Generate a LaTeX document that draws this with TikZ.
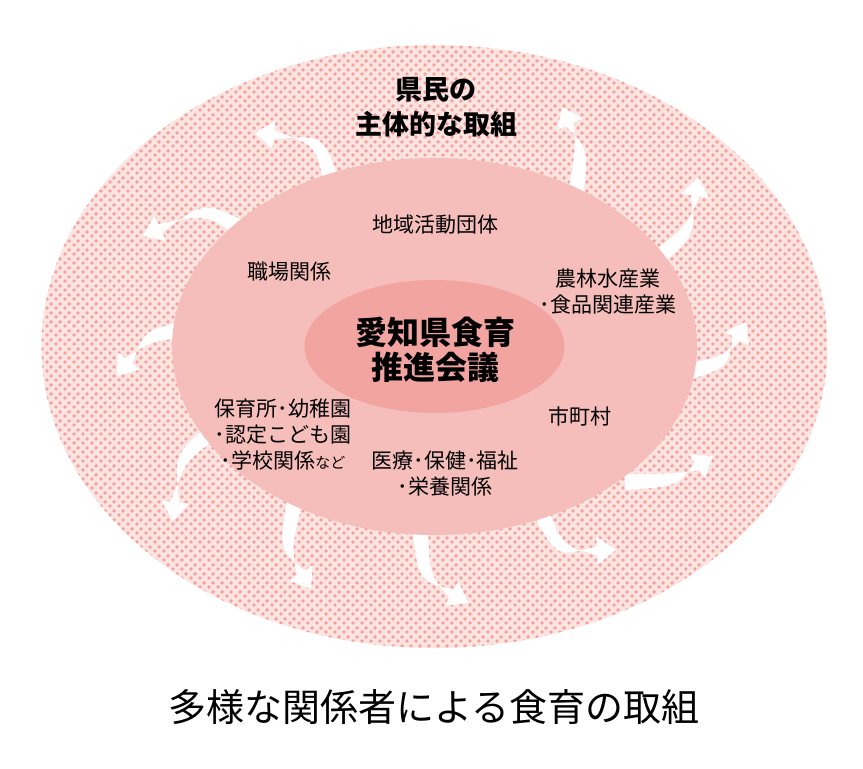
\documentclass[tikz,border=0pt]{standalone}
\usepackage{fontspec}
\setmainfont{Noto Sans CJK JP}
\usetikzlibrary{arrows.meta,patterns,calc}
\pgfdeclarepatternformonly{pinkdots}{\pgfqpoint{0pt}{0pt}}{\pgfqpoint{9pt}{9pt}}{\pgfqpoint{9pt}{9pt}}{%
  \pgfpathcircle{\pgfqpoint{2.25pt}{2.25pt}}{2.15pt}%
  \pgfpathcircle{\pgfqpoint{6.75pt}{6.75pt}}{2.15pt}%
  \pgfusepath{fill}}
\definecolor{ringbg}{RGB}{252,228,224}
\definecolor{dotpink}{RGB}{244,160,158}
\definecolor{midpink}{RGB}{246,190,186}
\definecolor{innerpink}{RGB}{242,164,160}
\newcommand\flowarrow[3]{%
  \coordinate (fS) at #1;
  \coordinate (fC) at #2;
  \coordinate (fT) at #3;
  \coordinate (fH) at ($(fT)!19pt!(fC)$);
  \coordinate (fD) at ($(fC)+(fT)-(fS)$);
  \fill[arrowfill] ($(fS)!8pt!90:(fC)$) .. controls ($(fC)!6.5pt!90:(fD)$) .. ($(fH)!4.5pt!-90:(fT)$)
    -- ($(fH)!14pt!-90:(fT)$) -- (fT) -- ($(fH)!14pt!90:(fT)$) -- ($(fH)!4.5pt!90:(fT)$)
    .. controls ($(fC)!6.5pt!-90:(fD)$) .. ($(fS)!8pt!-90:(fC)$) -- cycle;}
\begin{document}
\begin{tikzpicture}[x=1pt,y=-1pt,
  arrowfill/.style={white},
  lbl/.style={inner sep=0pt, align=center, font=\fontsize{21}{26}\selectfont},
  boldlbl/.style={inner sep=0pt, align=center, font=\fontsize{27}{35}\selectfont\bfseries},
  centerlbl/.style={inner sep=0pt, align=center, font=\fontsize{32}{35}\selectfont\bfseries},
  titlelbl/.style={inner sep=0pt, font=\fontsize{38}{40}\selectfont}]
\useasboundingbox (0,0) rectangle (863,769);
\fill[white] (0,0) rectangle (863,769);
% outer ring
\fill[ringbg] (434.5,346.5) ellipse [x radius=393pt, y radius=301.5pt];
\fill[pattern=pinkdots, pattern color=dotpink] (434.5,346.5) ellipse [x radius=393pt, y radius=301.5pt];
% arrows
\flowarrow{(332,185)}{(320,140)}{(255,133)}
\flowarrow{(240,228)}{(205,208)}{(143,236)}
\flowarrow{(182,330)}{(148,336)}{(117,376)}
\flowarrow{(212,432)}{(180,458)}{(173,521)}
\flowarrow{(296,495)}{(285,548)}{(311,589)}
\flowarrow{(420,525)}{(424,578)}{(468,603)}
\flowarrow{(540,510)}{(560,552)}{(616,550)}
\flowarrow{(625,482)}{(676,480)}{(713,456)}
\flowarrow{(688,372)}{(724,362)}{(746,322)}
\flowarrow{(652,262)}{(690,232)}{(698,177)}
\flowarrow{(575,198)}{(582,150)}{(562,107)}
% middle and inner
\fill[midpink] (434.5,346.5) ellipse [x radius=262.5pt, y radius=188.5pt];
\fill[innerpink] (434.5,346.5) ellipse [x radius=130pt, y radius=66.5pt];
% texts
\node[boldlbl] (kenmin) at (436,107) {県民の\\主体的な取組};
\node[lbl] (chiiki) at (435,225) {地域活動団体};
\node[lbl] (shokuba) at (289,272) {職場関係};
\node[lbl] (norin) at (608,292) {農林水産業\\･食品関連産業};
\node[centerlbl] (kaigi) at (435,350) {愛知県食育\\推進会議};
\node[lbl] (hoiku) at (283,435) {保育所･幼稚園\\･認定こども園\\･学校関係{\fontsize{15}{26}\selectfont など}};
\node[lbl] (shichoson) at (580,416) {市町村};
\node[lbl] (iryo) at (445,474) {医療･保健･福祉\\･栄養関係};
\node[titlelbl] (title) at (434,707) {多様な関係者による食育の取組};
\end{tikzpicture}
\end{document}
